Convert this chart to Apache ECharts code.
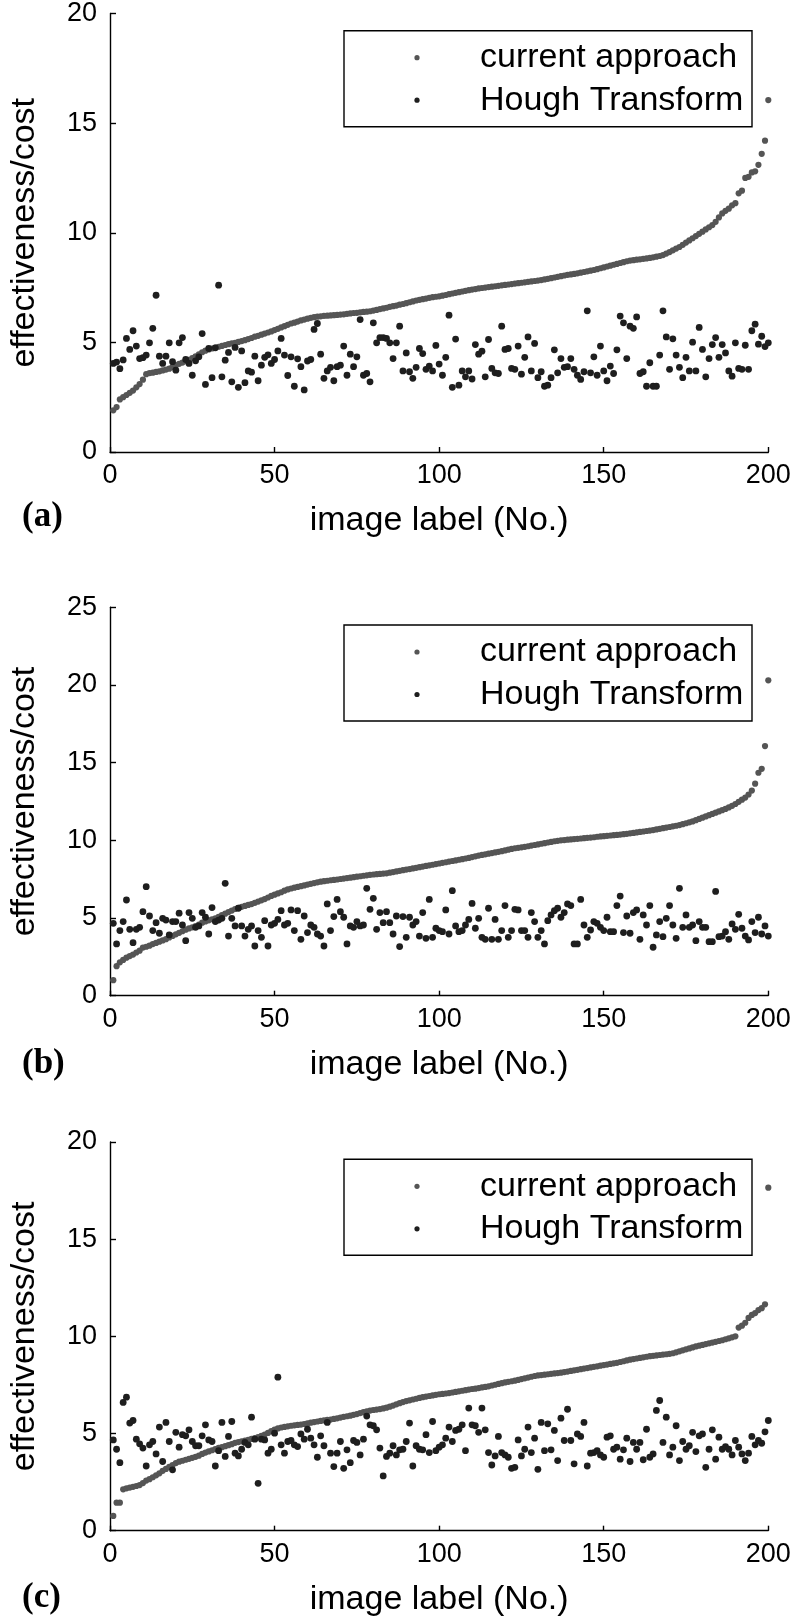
<!DOCTYPE html>
<html>
<head>
<meta charset="utf-8">
<script src="https://cdn.jsdelivr.net/npm/echarts@6/dist/echarts.min.js"></script>
<style>
html,body{margin:0;padding:0;background:#fff;}
#chart{width:796px;height:1620px;}
</style>
</head>
<body>
<div id="chart"></div>
<script>
// ---------- data ----------
const seriesNames = ['current approach', 'Hough Transform'];
const panelLabels = ['(a)', '(b)', '(c)'];
const xTicks = [0, 50, 100, 150, 200];
const yMaxA = 20, yMaxB = 25, yMaxC = 20;

// panel (a)
const currentA = [
1.90,2.05,2.40,2.50,2.60,2.70,2.80,2.95,3.10,3.30,
3.55,3.60,3.62,3.65,3.68,3.72,3.76,3.80,3.88,3.96,
4.02,4.08,4.14,4.20,4.28,4.36,4.45,4.55,4.62,4.68,
4.72,4.76,4.80,4.84,4.88,4.92,4.95,4.98,5.02,5.06,
5.10,5.15,5.20,5.26,5.30,5.35,5.40,5.45,5.50,5.56,
5.62,5.68,5.74,5.80,5.86,5.90,5.95,6.00,6.04,6.08,
6.12,6.15,6.17,6.19,6.21,6.22,6.23,6.24,6.25,6.27,
6.28,6.30,6.32,6.34,6.35,6.37,6.39,6.40,6.42,6.45,
6.48,6.52,6.55,6.58,6.62,6.65,6.68,6.72,6.75,6.79,
6.83,6.87,6.91,6.94,6.97,7.00,7.03,7.06,7.08,7.10,
7.13,7.16,7.20,7.23,7.26,7.29,7.32,7.35,7.38,7.41,
7.43,7.46,7.48,7.50,7.52,7.54,7.56,7.58,7.60,7.62,
7.64,7.66,7.68,7.70,7.72,7.74,7.76,7.78,7.80,7.82,
7.84,7.87,7.90,7.93,7.96,7.99,8.02,8.05,8.08,8.10,
8.12,8.15,8.18,8.21,8.24,8.27,8.30,8.34,8.38,8.42,
8.46,8.50,8.54,8.58,8.62,8.66,8.70,8.73,8.75,8.77,
8.79,8.81,8.83,8.85,8.88,8.91,8.94,8.98,9.05,9.12,
9.20,9.28,9.35,9.45,9.55,9.65,9.75,9.85,9.95,10.05,
10.15,10.25,10.35,10.50,10.70,10.88,11.00,11.10,11.25,11.35,
11.80,11.92,12.50,12.55,12.75,12.80,13.10,13.60,14.20,16.05];
const houghA = [
4.04,4.10,3.80,4.20,5.18,4.68,5.53,4.83,4.26,4.30,
4.42,4.98,5.64,7.15,4.37,4.04,4.37,4.98,4.12,3.73,
4.98,5.22,4.22,4.04,3.50,4.16,4.34,5.40,3.08,4.72,
3.39,4.75,7.61,3.43,4.19,4.54,3.20,4.77,2.95,4.61,
3.16,3.70,3.64,4.37,3.25,3.96,4.32,4.43,4.04,4.22,
4.61,5.18,4.42,3.49,4.34,3.00,4.25,3.89,2.83,4.15,
4.22,5.59,5.86,4.46,3.36,3.70,3.86,3.25,3.89,3.96,
4.83,3.50,4.46,3.89,4.34,6.04,3.50,3.58,3.20,5.89,
4.98,5.22,5.22,
5.18,4.98,4.26,4.98,5.74,3.70,4.52,3.66,3.36,3.86,
4.72,4.49,3.77,3.92,3.70,4.86,4.01,3.50,4.32,6.24,
2.95,5.15,3.05,3.70,3.43,3.70,3.33,4.90,4.46,4.60,
3.43,5.13,3.81,3.61,3.58,5.74,4.68,4.72,3.81,3.77,
4.83,3.55,4.32,5.25,3.70,4.95,3.39,3.66,3.00,3.05,
3.39,4.66,3.61,4.26,3.86,3.89,4.26,3.77,3.50,3.31,
3.66,6.44,3.61,4.34,3.50,4.83,3.70,3.25,3.92,3.58,
4.66,6.20,5.89,4.26,5.74,5.64,6.16,3.58,3.66,3.00,
4.07,3.00,3.00,4.42,6.44,5.25,3.77,5.16,4.42,3.86,
3.39,4.32,3.70,5.01,3.70,5.68,4.68,3.43,4.26,4.90,
5.22,4.32,4.90,4.52,3.70,3.46,4.98,3.81,3.77,4.87,
3.77,5.53,5.83,4.92,5.28,4.81,4.98];

// panel (b)
const currentB = [
1.00,1.90,2.15,2.30,2.45,2.55,2.65,2.78,2.90,3.10,
3.15,3.22,3.32,3.40,3.48,3.56,3.64,3.75,3.85,3.95,
4.05,4.15,4.25,4.33,4.40,4.48,4.58,4.70,4.78,4.85,
4.92,4.98,5.08,5.18,5.28,5.38,5.48,5.58,5.66,5.72,
5.78,5.84,5.90,5.98,6.06,6.14,6.22,6.32,6.42,6.50,
6.58,6.66,6.76,6.84,6.90,6.95,7.00,7.05,7.10,7.15,
7.20,7.25,7.30,7.34,7.37,7.40,7.43,7.45,7.48,7.51,
7.54,7.57,7.60,7.63,7.66,7.69,7.72,7.75,7.78,7.80,
7.82,7.84,7.86,7.88,7.92,7.96,8.00,8.04,8.08,8.12,
8.15,8.19,8.23,8.27,8.31,8.35,8.39,8.43,8.47,8.51,
8.55,8.59,8.63,8.67,8.71,8.75,8.79,8.83,8.87,8.92,
8.97,9.02,9.06,9.10,9.14,9.18,9.22,9.26,9.30,9.35,
9.40,9.45,9.49,9.52,9.55,9.58,9.62,9.66,9.70,9.74,
9.78,9.82,9.86,9.90,9.94,9.97,10.00,10.02,10.04,10.06,
10.08,10.10,10.12,10.14,10.16,10.18,10.20,10.23,10.25,10.27,
10.29,10.31,10.33,10.35,10.37,10.40,10.42,10.45,10.48,10.51,
10.54,10.57,10.60,10.63,10.66,10.70,10.74,10.78,10.82,10.86,
10.90,10.94,10.98,11.04,11.10,11.16,11.22,11.30,11.38,11.46,
11.54,11.62,11.70,11.78,11.86,11.94,12.02,12.12,12.22,12.34,
12.48,12.62,12.75,12.95,13.20,13.65,14.35,14.60,16.07,20.30];
const houghB = [
4.66,3.33,4.19,4.77,6.16,4.27,3.41,4.27,4.40,5.41,
7.02,5.13,4.19,4.70,4.02,4.98,4.87,3.91,4.77,4.77,
5.31,4.55,3.54,5.35,4.98,4.40,4.49,5.35,5.05,3.97,
5.67,4.77,4.87,4.98,7.23,3.84,4.98,4.49,5.63,4.49,
3.84,4.27,4.49,3.20,4.19,3.76,4.83,3.20,4.55,4.66,
4.91,5.47,4.55,4.66,5.52,4.19,5.47,3.63,5.13,4.06,
4.55,4.40,3.97,3.84,3.20,5.91,4.19,5.09,6.20,5.41,
5.05,3.33,4.49,4.40,4.77,4.49,4.55,6.91,5.56,6.27,
4.27,5.35,4.70,
5.41,4.70,3.97,5.13,3.16,5.09,3.76,5.05,4.55,4.77,
3.84,5.35,3.69,6.20,3.76,4.34,4.19,4.12,5.52,3.97,
6.76,4.49,4.12,4.19,4.55,4.91,5.94,4.34,4.98,3.76,
3.63,5.63,3.63,4.91,3.63,4.19,5.80,3.76,4.19,5.56,
5.52,4.19,4.19,3.76,5.35,4.77,3.76,4.19,3.33,4.83,
5.20,5.47,5.63,5.05,5.35,5.91,5.80,3.33,3.33,6.20,
4.55,3.76,4.23,4.77,4.66,4.40,4.19,5.05,4.12,4.12,
5.80,6.41,4.06,5.13,4.02,5.35,5.52,3.63,5.20,4.55,
5.80,3.12,3.91,4.77,3.80,4.98,5.80,4.55,3.69,6.91,
4.40,5.20,4.40,4.55,3.54,4.77,4.40,4.40,3.48,3.48,
6.71,3.80,3.84,4.12,3.63,4.62,4.27,5.24,4.34,3.84,
3.59,4.77,4.06,5.05,3.97,4.49,3.84];

// panel (c)
const currentC = [
0.76,1.44,1.44,2.13,2.18,2.22,2.26,2.30,2.35,2.45,
2.58,2.65,2.75,2.85,2.95,3.08,3.18,3.28,3.38,3.48,
3.55,3.60,3.65,3.70,3.75,3.80,3.86,3.95,4.02,4.08,
4.14,4.20,4.26,4.30,4.35,4.40,4.45,4.52,4.56,4.60,
4.64,4.68,4.72,4.76,4.82,4.88,4.95,5.03,5.12,5.20,
5.26,5.31,5.34,5.37,5.40,5.42,5.44,5.46,5.49,5.52,
5.56,5.59,5.62,5.65,5.68,5.70,5.72,5.75,5.78,5.82,
5.86,5.89,5.92,5.96,6.00,6.05,6.10,6.14,6.18,6.21,
6.23,6.26,6.29,6.33,6.38,6.44,6.50,6.56,6.62,6.67,
6.71,6.75,6.79,6.83,6.87,6.90,6.93,6.96,6.99,7.02,
7.04,7.06,7.08,7.11,7.14,7.17,7.20,7.23,7.26,7.29,
7.31,7.34,7.37,7.40,7.43,7.47,7.51,7.55,7.59,7.63,
7.66,7.69,7.72,7.76,7.80,7.84,7.88,7.92,7.96,7.99,
8.01,8.03,8.05,8.07,8.09,8.11,8.13,8.16,8.19,8.22,
8.25,8.28,8.31,8.34,8.37,8.40,8.43,8.46,8.49,8.52,
8.55,8.58,8.61,8.64,8.68,8.72,8.76,8.80,8.83,8.86,
8.89,8.92,8.95,8.98,9.00,9.02,9.04,9.06,9.08,9.10,
9.13,9.18,9.23,9.28,9.33,9.38,9.43,9.48,9.52,9.56,
9.60,9.64,9.68,9.72,9.76,9.80,9.85,9.90,9.95,10.00,
10.45,10.55,10.70,10.95,11.10,11.20,11.35,11.45,11.65,17.65];
const houghC = [
4.67,4.19,3.50,6.60,6.87,5.54,5.67,4.71,4.47,4.25,
3.33,4.42,4.59,3.95,5.33,3.56,5.57,4.59,3.13,5.06,
4.30,4.94,4.88,5.19,4.59,4.37,4.37,4.88,5.45,4.67,
4.59,3.33,4.12,5.57,3.82,4.85,5.62,3.99,3.85,4.19,
4.54,4.42,5.84,4.71,2.44,4.71,4.67,3.99,4.19,5.02,
7.90,4.42,3.99,4.59,4.64,4.42,4.33,4.98,4.71,5.22,
4.76,4.42,3.78,4.88,4.37,5.57,3.99,3.30,3.99,4.59,
3.21,4.16,3.50,4.64,4.54,3.90,4.71,5.90,5.45,5.40,
5.19,4.25,
2.82,3.82,3.99,4.37,3.90,4.16,4.19,4.59,5.54,3.33,
4.37,4.19,4.16,4.94,4.02,5.62,4.12,4.30,4.42,4.76,
5.33,4.59,5.16,5.22,5.45,4.12,6.31,5.45,5.40,5.06,
6.31,5.19,4.02,3.38,3.85,4.85,4.02,3.90,3.78,3.21,
3.26,4.67,3.85,4.19,5.33,4.02,4.76,3.16,5.57,4.12,
5.50,4.16,5.16,3.61,5.79,4.64,6.25,4.64,3.44,4.98,
4.85,5.57,3.33,3.99,4.02,4.12,3.90,3.78,4.81,4.88,
4.19,4.30,3.68,4.16,4.76,3.56,4.54,4.19,4.54,3.65,
5.22,3.78,3.95,6.19,6.70,4.54,5.84,3.90,4.30,5.40,
3.61,4.59,4.19,4.37,5.06,4.07,4.88,4.98,3.26,4.19,
5.19,3.68,4.81,4.19,4.33,4.19,3.90,4.64,4.30,3.95,
3.61,3.99,4.85,4.42,4.64,4.50,5.09,5.67];

// image label numbers 1..200
const imageLabels = currentA.map((_, i) => i + 1);

// ---------- chart ----------
const FONT = '"Liberation Sans", Arial, Helvetica, sans-serif';
const COLOR_CUR = '#555555';
const COLOR_HOUGH = '#1e1e1e';
const panels = [
  { cur: currentA, hough: houghA, ymax: yMaxA, top: 13,    height: 439,   legendTop: 30.7 },
  { cur: currentB, hough: houghB, ymax: yMaxB, top: 607.3, height: 388.4, legendTop: 625 },
  { cur: currentC, hough: houghC, ymax: yMaxC, top: 1142,  height: 388.7, legendTop: 1159.3 }
];
const labelCenters = [519, 1066, 1600];

const pairs = arr => arr.map((v, i) => [imageLabels[i], v]);

const grid = [], xAxis = [], yAxis = [], series = [], graphic = [];
panels.forEach((p, k) => {
  grid.push({ left: 106, top: p.top, width: 662.3, height: p.height, containLabel: false });
  xAxis.push({
    gridIndex: k, type: 'value', min: 0, max: 200, interval: 50,
    name: 'image label (No.)', nameLocation: 'middle', nameGap: 52,
    nameTextStyle: { fontSize: 34, color: '#000', fontFamily: FONT },
    axisLine: { lineStyle: { color: '#000', width: 1.4 } },
    axisTick: { inside: true, length: 5, lineStyle: { color: '#000', width: 1.4 } },
    axisLabel: { fontSize: 27, color: '#000', fontFamily: FONT, margin: 10,
      formatter: v => xTicks.indexOf(v) >= 0 ? String(v) : '' },
    splitLine: { show: false }
  });
  yAxis.push({
    gridIndex: k, type: 'value', min: 0, max: p.ymax, interval: 5,
    name: 'effectiveness/cost', nameLocation: 'middle', nameGap: 68,
    nameTextStyle: { fontSize: 34, color: '#000', fontFamily: FONT },
    axisLine: { show: true, lineStyle: { color: '#000', width: 1.4 } },
    axisTick: { show: true, inside: true, length: 6, lineStyle: { color: '#000', width: 1.4 } },
    axisLabel: { fontSize: 27, color: '#000', fontFamily: FONT, margin: 13 },
    splitLine: { show: false }
  });
  series.push({
    name: seriesNames[0], type: 'scatter', xAxisIndex: k, yAxisIndex: k,
    symbol: 'circle', symbolSize: 6.2, data: pairs(p.cur),
    itemStyle: { color: COLOR_CUR, opacity: 1 }, silent: true, z: 2
  });
  series.push({
    name: seriesNames[1], type: 'scatter', xAxisIndex: k, yAxisIndex: k,
    symbol: 'circle', symbolSize: 6.8, data: pairs(p.hough),
    itemStyle: { color: COLOR_HOUGH, opacity: 1 }, silent: true, z: 3
  });
  // legend box (MATLAB style)
  const T = p.legendTop;
  graphic.push({
    type: 'group', z: 100, children: [
      { type: 'rect', shape: { x: 344, y: T, width: 408, height: 96 },
        style: { fill: '#fff', stroke: '#000', lineWidth: 1.4 } },
      { type: 'circle', shape: { cx: 417, cy: T + 27, r: 2.6 }, style: { fill: COLOR_CUR } },
      { type: 'circle', shape: { cx: 417, cy: T + 69.5, r: 2.6 }, style: { fill: COLOR_HOUGH } },
      { type: 'text', x: 480, y: T + 27,
        style: { text: seriesNames[0], font: '34px ' + FONT, fill: '#000', verticalAlign: 'middle' } },
      { type: 'text', x: 480, y: T + 69.5,
        style: { text: seriesNames[1], font: '34px ' + FONT, fill: '#000', verticalAlign: 'middle' } }
    ]
  });
  graphic.push({
    type: 'text', left: 22, top: labelCenters[k] - 20,
    style: { text: panelLabels[k], fontSize: 35, fontWeight: 'bold',
      fontFamily: '"Liberation Serif", "Times New Roman", serif', fill: '#000' }
  });
});

const chart = echarts.init(document.getElementById('chart'), null, { renderer: 'canvas' });
chart.setOption({
  animation: false,
  backgroundColor: '#fff',
  grid, xAxis, yAxis, series, graphic
});
</script>
</body>
</html>
